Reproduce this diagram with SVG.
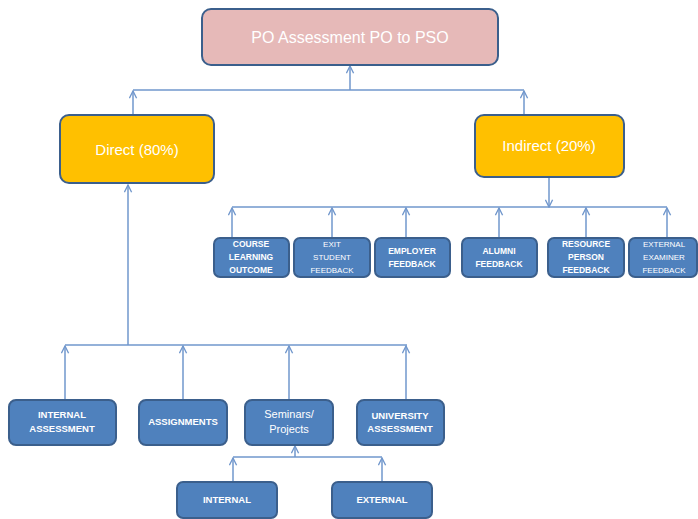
<svg xmlns="http://www.w3.org/2000/svg" width="698" height="519" viewBox="0 0 698 519">
<defs>
<style>
.b{fill:#4f81bd;stroke:#3b5f8c;stroke-width:2}
.y{fill:#ffc000;stroke:#3b5f8c;stroke-width:2}
.p{fill:#e6b9b8;stroke:#3b5f8c;stroke-width:2}
.t{font-family:"Liberation Sans",Arial,sans-serif;fill:#ffffff;text-anchor:middle}
.s{font-size:8.5px;font-weight:bold}
.sn{font-size:8px}
.m{font-size:9.5px;font-weight:bold}
.c{fill:none;stroke:#7197cc;stroke-width:1.5}
</style>
<marker id="a" viewBox="0 0 10 10" refX="9" refY="5" markerWidth="9" markerHeight="9" markerUnits="userSpaceOnUse" orient="auto">
<path d="M1,1 L9,5 L1,9" fill="none" stroke="#7197cc" stroke-width="1.5"/>
</marker>
</defs>
<g id="connectors">
<line class="c" x1="350" y1="90" x2="350" y2="66" marker-end="url(#a)"/>
<line class="c" x1="133" y1="90" x2="524" y2="90"/>
<line class="c" x1="133" y1="114" x2="133" y2="91" marker-end="url(#a)"/>
<line class="c" x1="524" y1="114" x2="524" y2="91" marker-end="url(#a)"/>
<line class="c" x1="549" y1="177" x2="549" y2="207" marker-end="url(#a)"/>
<line class="c" x1="232" y1="207" x2="667" y2="207"/>
<line class="c" x1="232" y1="237" x2="232" y2="208" marker-end="url(#a)"/>
<line class="c" x1="332" y1="237" x2="332" y2="208" marker-end="url(#a)"/>
<line class="c" x1="406" y1="237" x2="406" y2="208" marker-end="url(#a)"/>
<line class="c" x1="499" y1="237" x2="499" y2="208" marker-end="url(#a)"/>
<line class="c" x1="586" y1="237" x2="586" y2="208" marker-end="url(#a)"/>
<line class="c" x1="667" y1="237" x2="667" y2="208" marker-end="url(#a)"/>
<line class="c" x1="128" y1="345" x2="128" y2="185" marker-end="url(#a)"/>
<line class="c" x1="65" y1="345" x2="407" y2="345"/>
<line class="c" x1="65" y1="399" x2="65" y2="346" marker-end="url(#a)"/>
<line class="c" x1="183" y1="399" x2="183" y2="346" marker-end="url(#a)"/>
<line class="c" x1="289" y1="399" x2="289" y2="346" marker-end="url(#a)"/>
<line class="c" x1="406" y1="399" x2="406" y2="346" marker-end="url(#a)"/>
<line class="c" x1="295" y1="457" x2="295" y2="446" marker-end="url(#a)"/>
<line class="c" x1="233" y1="457" x2="382" y2="457"/>
<line class="c" x1="233" y1="481" x2="233" y2="458" marker-end="url(#a)"/>
<line class="c" x1="382" y1="481" x2="382" y2="458" marker-end="url(#a)"/>
</g>
<g id="root">
<rect class="p" x="202" y="9" width="296" height="56" rx="9"/>
<text class="t" x="350" y="43" font-size="16">PO Assessment PO to PSO</text>
</g>
<g id="direct">
<rect class="y" x="60" y="115" width="154" height="68" rx="9"/>
<text class="t" x="137" y="155" font-size="15">Direct (80%)</text>
</g>
<g id="indirect">
<rect class="y" x="475" y="115" width="149" height="62" rx="9"/>
<text class="t" x="549" y="151" font-size="15">Indirect (20%)</text>
</g>
<g id="course">
<rect class="b" x="214" y="238" width="75" height="39" rx="6"/>
<text class="t s" x="251" y="247">COURSE</text>
<text class="t s" x="251" y="260">LEARNING</text>
<text class="t s" x="251" y="273">OUTCOME</text>
</g>
<g id="exit">
<rect class="b" x="294" y="238" width="76" height="39" rx="6"/>
<text class="t sn" x="332" y="247">EXIT</text>
<text class="t sn" x="332" y="260">STUDENT</text>
<text class="t sn" x="332" y="273">FEEDBACK</text>
</g>
<g id="employer">
<rect class="b" x="375" y="238" width="75" height="39" rx="6"/>
<text class="t s" x="412" y="254">EMPLOYER</text>
<text class="t s" x="412" y="267">FEEDBACK</text>
</g>
<g id="alumni">
<rect class="b" x="462" y="238" width="75" height="39" rx="6"/>
<text class="t s" x="499" y="254">ALUMNI</text>
<text class="t s" x="499" y="267">FEEDBACK</text>
</g>
<g id="resource">
<rect class="b" x="548" y="238" width="76" height="39" rx="6"/>
<text class="t s" x="586" y="247">RESOURCE</text>
<text class="t s" x="586" y="260">PERSON</text>
<text class="t s" x="586" y="273">FEEDBACK</text>
</g>
<g id="examiner">
<rect class="b" x="629" y="238" width="68" height="39" rx="6"/>
<text class="t sn" x="664" y="247">EXTERNAL</text>
<text class="t sn" x="664" y="260">EXAMINER</text>
<text class="t sn" x="664" y="273">FEEDBACK</text>
</g>
<g id="internal-assessment">
<rect class="b" x="9" y="400" width="107" height="45" rx="7"/>
<text class="t m" x="62" y="418">INTERNAL</text>
<text class="t m" x="62" y="432">ASSESSMENT</text>
</g>
<g id="assignments">
<rect class="b" x="139" y="400" width="88" height="45" rx="7"/>
<text class="t m" x="183" y="425">ASSIGNMENTS</text>
</g>
<g id="seminars">
<rect class="b" x="245" y="400" width="88" height="45" rx="7"/>
<text class="t" x="289" y="418" font-size="11">Seminars/</text>
<text class="t" x="289" y="433" font-size="11">Projects</text>
</g>
<g id="university">
<rect class="b" x="357" y="400" width="87" height="45" rx="7"/>
<text class="t m" x="400" y="419">UNIVERSITY</text>
<text class="t m" x="400" y="432">ASSESSMENT</text>
</g>
<g id="internal">
<rect class="b" x="177" y="482" width="100" height="36" rx="6"/>
<text class="t m" x="227" y="503">INTERNAL</text>
</g>
<g id="external">
<rect class="b" x="332" y="482" width="100" height="36" rx="6"/>
<text class="t m" x="382" y="503">EXTERNAL</text>
</g>
</svg>
